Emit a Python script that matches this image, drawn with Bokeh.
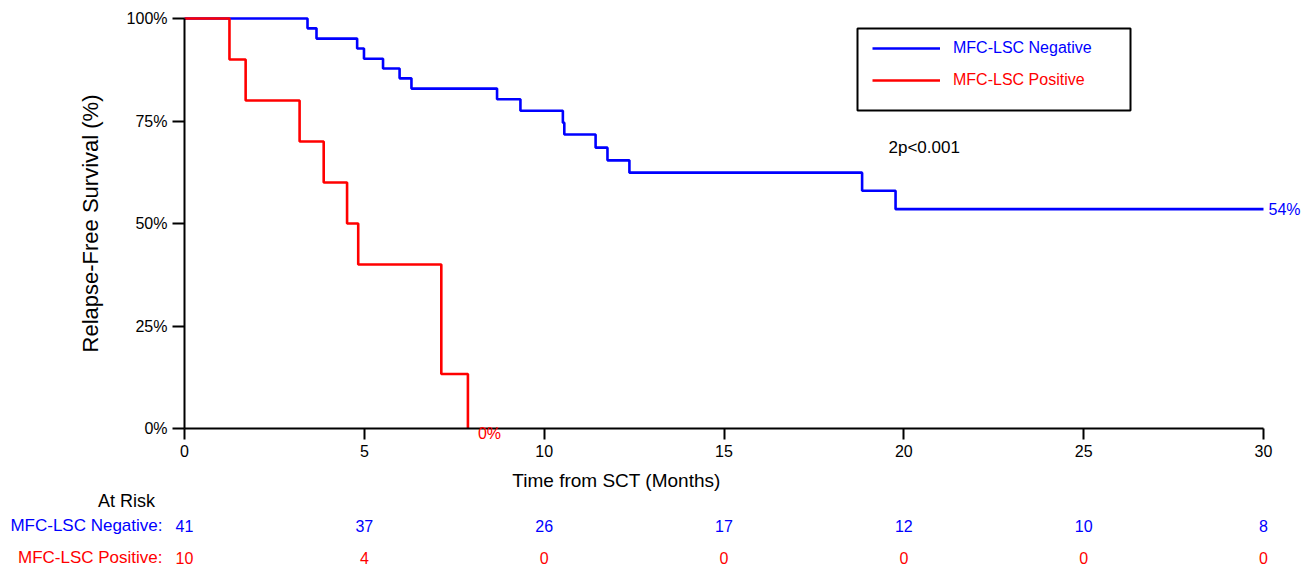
from bokeh.plotting import figure
from bokeh.models import (ColumnDataSource, Label, Legend, LegendItem, BoxAnnotation,
                          FixedTicker, Range1d, CustomJSTickFormatter)
from bokeh.core.properties import value
from bokeh.embed import file_html
from bokeh.resources import INLINE

# ---- data ----
neg_time = [0, 3.42, 3.67, 4.80, 4.99, 5.52, 5.98, 6.31, 8.69, 9.34, 10.52, 10.56,
            11.43, 11.76, 12.37, 18.84, 19.77, 30]
neg_surv = [100, 97.6, 95.1, 92.7, 90.2, 87.8, 85.4, 82.9, 80.3, 77.5, 74.6, 71.7,
            68.5, 65.4, 62.4, 58.0, 53.5, 53.5]
pos_time = [0, 1.25, 1.70, 3.20, 3.87, 4.52, 4.83, 7.14, 7.88]
pos_surv = [100, 90, 80, 70, 60, 50, 40, 13.3, 0]

risk_times = [0, 5, 10, 15, 20, 25, 30]
risk_neg = ["41", "37", "26", "17", "12", "10", "8"]
risk_pos = ["10", "4", "0", "0", "0", "0", "0"]

x_ticks = [0, 5, 10, 15, 20, 25, 30]
y_ticks = [0, 25, 50, 75, 100]

neg_name = "MFC-LSC Negative"
pos_name = "MFC-LSC Positive"
pval_text = "2p<0.001"
neg_end_text = "54%"
pos_end_text = "0%"

BLUE = "#0000ff"
RED = "#ff0000"
FONT = "Liberation Sans"

# ---- layout: frame covers whole canvas, axes pinned at 0 ----
W, H = 1311, 569
PX_LEFT, PX_RIGHT, PX_TOP, PX_BOTTOM = 184, 1263, 18, 428
kx = (PX_RIGHT - PX_LEFT) / 30.0
ky = (PX_BOTTOM - PX_TOP) / 100.0
x_range = Range1d(-PX_LEFT / kx, 30 + (W - PX_RIGHT) / kx)
y_range = Range1d(-(H - PX_BOTTOM) / ky, 100 + PX_TOP / ky)


def py(pix):  # page pixel row -> data y
    return (PX_BOTTOM - pix) / ky


def px(pix):  # page pixel column -> data x
    return (pix - PX_LEFT) / kx


p = figure(width=W, height=H, output_backend="svg", toolbar_location=None,
           x_range=x_range, y_range=y_range, title=None,
           min_border_left=0, min_border_right=0, min_border_top=0,
           min_border_bottom=0)
p.outline_line_color = None
p.grid.grid_line_color = None
p.background_fill_color = "white"
p.border_fill_color = "white"

xa, ya = p.xaxis[0], p.yaxis[0]
xa.fixed_location = 0
ya.fixed_location = 0
xa.bounds = (0, 30)
ya.bounds = (0, 100)
for ax in (xa, ya):
    ax.axis_line_width = 2
    ax.axis_line_color = "black"
    ax.major_tick_line_width = 2
    ax.major_tick_line_color = "black"
    ax.major_tick_in = 0
    ax.minor_tick_line_color = None
    ax.major_label_text_font = FONT
    ax.major_label_text_font_size = "16px"
    ax.major_label_text_color = "black"
xa.major_tick_out = 11
ya.major_tick_out = 12
xa.major_label_standoff = 5
ya.major_label_standoff = 5

xa.ticker = FixedTicker(ticks=x_ticks)
ya.ticker = FixedTicker(ticks=y_ticks)
ya.formatter = CustomJSTickFormatter(code="return tick + '%';")
ya.axis_label = "Relapse-Free Survival (%)"
ya.axis_label_text_font = FONT
ya.axis_label_text_font_style = "normal"
ya.axis_label_text_font_size = "22px"
ya.axis_label_text_color = "black"
ya.axis_label_standoff = 21

# ---- legend frame ----
p.add_layout(BoxAnnotation(left=px(857), right=px(1130), top=py(28), bottom=py(110),
                           fill_color="white", fill_alpha=1, line_color="black",
                           line_width=2, line_alpha=1, level="underlay"))

neg_src = ColumnDataSource(dict(t=neg_time, s=neg_surv))
pos_src = ColumnDataSource(dict(t=pos_time, s=pos_surv))
r_neg = p.step("t", "s", source=neg_src, mode="after", line_color=BLUE, line_width=2.6)
r_pos = p.step("t", "s", source=pos_src, mode="after", line_color=RED, line_width=2.6)

# ---- legend entries (one per colour) ----
common = dict(orientation="vertical", glyph_width=68, glyph_height=20,
              label_height=20, label_standoff=13, margin=0, padding=0,
              label_text_font=FONT, label_text_font_size="16px",
              border_line_color=None, background_fill_alpha=0)
leg_neg = Legend(items=[LegendItem(label=value(neg_name), renderers=[r_neg])],
                 location=(872, H - 58), label_text_color=BLUE, **common)
leg_pos = Legend(items=[LegendItem(label=value(pos_name), renderers=[r_pos])],
                 location=(872, H - 90), label_text_color=RED, **common)
p.add_layout(leg_neg, "center")
p.add_layout(leg_pos, "center")

# ---- text annotations ----
p.add_layout(Label(x=neg_time[-1], y=neg_surv[-1], text=neg_end_text, x_offset=5,
                   text_baseline="middle", text_color=BLUE, text_font=FONT,
                   text_font_size="16px"))
p.add_layout(Label(x=pos_time[-1], y=pos_surv[-1], text=pos_end_text, x_offset=10,
                   y_offset=-5, text_baseline="middle", text_color=RED,
                   text_font=FONT, text_font_size="16px"))
p.add_layout(Label(x=px(888), y=py(147), text=pval_text, text_baseline="middle",
                   text_color="black", text_font=FONT, text_font_size="17px"))
p.add_layout(Label(x=px(616), y=py(480), text="Time from SCT (Months)",
                   text_align="center", text_baseline="middle", text_color="black",
                   text_font=FONT, text_font_size="19px"))

# ---- at-risk table ----
p.add_layout(Label(x=0, x_offset=-58, y=py(500), text="At Risk", text_align="center",
                   text_baseline="middle", text_color="black", text_font=FONT,
                   text_font_size="18px"))
p.add_layout(Label(x=0, x_offset=-22, y=py(525), text=neg_name + ":",
                   text_align="right", text_baseline="middle", text_color=BLUE,
                   text_font=FONT, text_font_size="17px"))
p.add_layout(Label(x=0, x_offset=-22, y=py(557), text=pos_name + ":",
                   text_align="right", text_baseline="middle", text_color=RED,
                   text_font=FONT, text_font_size="17px"))
risk_src = ColumnDataSource(dict(t=risk_times, neg=risk_neg, pos=risk_pos,
                                 yn=[py(525)] * len(risk_times),
                                 yp=[py(557)] * len(risk_times)))
p.text(x="t", y="yn", text="neg", source=risk_src, text_align="center",
       text_baseline="middle", text_color=BLUE, text_font=value(FONT),
       text_font_size="16px")
p.text(x="t", y="yp", text="pos", source=risk_src, text_align="center",
       text_baseline="middle", text_color=RED, text_font=value(FONT),
       text_font_size="16px")

open("out.html", "w").write(file_html(p, INLINE))
